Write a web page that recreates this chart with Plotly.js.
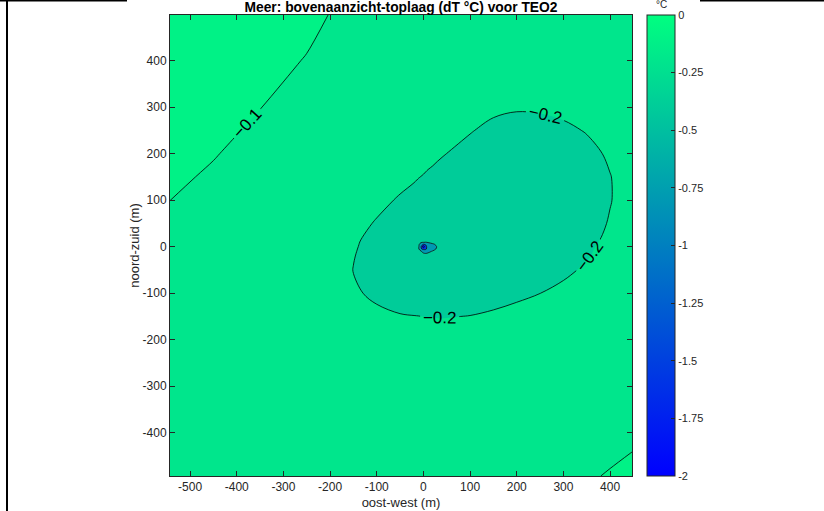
<!DOCTYPE html>
<html><head><meta charset="utf-8">
<script src="https://cdn.plot.ly/plotly-3.0.1.min.js"></script>
<style>html,body{margin:0;padding:0;background:#fff;} #chart{width:824px;height:511px;}</style>
</head><body><div id="chart"></div>
<script>
// grid coordinates (m)
const xs = [-543, -450, -350, -250, -150, -100, -50, -20, -10, -5, 0, 5, 10, 20, 30, 40, 100, 150, 200, 250, 300, 350, 400, 447];
const ys = [-493, -400, -300, -200, -150, -100, -50, -20, -10, -5, 0, 5, 10, 20, 50, 100, 150, 200, 250, 300, 400, 498];
// dT (°C), one row per ys value
const dT = [
 [-0.15,-0.15,-0.15,-0.15,-0.15,-0.15,-0.15,-0.15,-0.15,-0.15,-0.15,-0.15,-0.15,-0.15,-0.15,-0.15,-0.15,-0.15,-0.15,-0.15,-0.15,-0.119,-0.0875,-0.085],
 [-0.15,-0.15,-0.15,-0.15,-0.15,-0.15,-0.15,-0.15,-0.15,-0.15,-0.15,-0.15,-0.15,-0.15,-0.15,-0.15,-0.15,-0.15,-0.15,-0.15,-0.15,-0.15,-0.16,-0.112],
 [-0.15,-0.15,-0.15,-0.15,-0.15,-0.15,-0.15,-0.15,-0.15,-0.15,-0.15,-0.15,-0.15,-0.15,-0.15,-0.15,-0.15,-0.15,-0.15,-0.15,-0.15,-0.15,-0.15,-0.15],
 [-0.15,-0.15,-0.15,-0.15,-0.155,-0.166,-0.172,-0.174,-0.175,-0.175,-0.175,-0.1755,-0.176,-0.176,-0.177,-0.177,-0.174,-0.169,-0.163,-0.153,-0.15,-0.15,-0.15,-0.15],
 [-0.15,-0.15,-0.15,-0.15,-0.175,-0.189,-0.197,-0.199,-0.1995,-0.1999,-0.2002,-0.2006,-0.201,-0.201,-0.202,-0.202,-0.199,-0.193,-0.186,-0.177,-0.166,-0.153,-0.15,-0.15],
 [-0.14,-0.15,-0.15,-0.15,-0.193,-0.21,-0.222,-0.224,-0.224,-0.2245,-0.225,-0.225,-0.225,-0.226,-0.227,-0.227,-0.224,-0.218,-0.209,-0.2003,-0.188,-0.175,-0.155,-0.15],
 [-0.13,-0.147,-0.15,-0.15,-0.201,-0.225,-0.245,-0.249,-0.249,-0.2495,-0.25,-0.25,-0.25,-0.251,-0.251,-0.252,-0.249,-0.242,-0.233,-0.222,-0.21,-0.193,-0.174,-0.154],
 [-0.124,-0.141,-0.15,-0.15,-0.198,-0.222,-0.245,-0.29,-0.31,-0.33,-0.33,-0.34,-0.34,-0.33,-0.31,-0.29,-0.264,-0.256,-0.246,-0.235,-0.221,-0.204,-0.182,-0.161],
 [-0.122,-0.139,-0.15,-0.15,-0.1965,-0.221,-0.2415,-0.29,-0.33,-0.395,-0.44,-0.45,-0.43,-0.39,-0.34,-0.30,-0.269,-0.261,-0.251,-0.24,-0.224,-0.206,-0.184,-0.164],
 [-0.121,-0.138,-0.15,-0.15,-0.1958,-0.22,-0.24,-0.30,-0.38,-0.75,-0.92,-0.9,-0.55,-0.44,-0.38,-0.32,-0.2715,-0.2635,-0.2535,-0.242,-0.226,-0.207,-0.1855,-0.165],
 [-0.12,-0.137,-0.15,-0.15,-0.195,-0.219,-0.2385,-0.30,-0.37,-0.75,-2.2,-0.95,-0.55,-0.45,-0.39,-0.33,-0.274,-0.266,-0.256,-0.244,-0.228,-0.208,-0.187,-0.166],
 [-0.119,-0.136,-0.15,-0.15,-0.1945,-0.2175,-0.237,-0.29,-0.34,-0.6,-0.82,-0.75,-0.5,-0.42,-0.37,-0.31,-0.2765,-0.2685,-0.258,-0.246,-0.2295,-0.2095,-0.188,-0.167],
 [-0.118,-0.135,-0.15,-0.15,-0.194,-0.216,-0.2355,-0.29,-0.30,-0.33,-0.33,-0.37,-0.37,-0.35,-0.31,-0.30,-0.279,-0.271,-0.26,-0.248,-0.231,-0.211,-0.189,-0.168],
 [-0.116,-0.133,-0.15,-0.15,-0.192,-0.213,-0.233,-0.28,-0.29,-0.295,-0.30,-0.30,-0.30,-0.30,-0.29,-0.28,-0.284,-0.276,-0.265,-0.253,-0.235,-0.213,-0.192,-0.169],
 [-0.11,-0.127,-0.149,-0.15,-0.184,-0.204,-0.223,-0.233,-0.237,-0.2385,-0.24,-0.2415,-0.243,-0.247,-0.25,-0.253,-0.273,-0.278,-0.279,-0.266,-0.242,-0.22,-0.1965,-0.174],
 [-0.0998,-0.117,-0.139,-0.15,-0.169,-0.187,-0.205,-0.215,-0.218,-0.2195,-0.221,-0.2225,-0.224,-0.227,-0.231,-0.234,-0.254,-0.262,-0.295,-0.277,-0.252,-0.227,-0.202,-0.179],
 [-0.09,-0.107,-0.129,-0.15,-0.15,-0.17,-0.186,-0.195,-0.199,-0.2005,-0.202,-0.204,-0.206,-0.209,-0.212,-0.216,-0.236,-0.247,-0.27,-0.267,-0.249,-0.225,-0.2015,-0.177],
 [-0.08,-0.097,-0.119,-0.143,-0.15,-0.15,-0.167,-0.177,-0.18,-0.182,-0.184,-0.1855,-0.187,-0.19,-0.194,-0.197,-0.216,-0.232,-0.245,-0.242,-0.231,-0.214,-0.193,-0.171],
 [-0.07,-0.087,-0.109,-0.133,-0.15,-0.15,-0.15,-0.159,-0.162,-0.1635,-0.165,-0.167,-0.169,-0.172,-0.175,-0.179,-0.197,-0.212,-0.22,-0.218,-0.21,-0.197,-0.179,-0.16],
 [-0.06,-0.077,-0.099,-0.123,-0.15,-0.15,-0.15,-0.15,-0.15,-0.15,-0.15,-0.15,-0.15,-0.154,-0.157,-0.16,-0.177,-0.19,-0.195,-0.193,-0.187,-0.176,-0.15,-0.15],
 [-0.04,-0.057,-0.079,-0.103,-0.138,-0.15,-0.15,-0.15,-0.15,-0.15,-0.15,-0.15,-0.15,-0.15,-0.15,-0.15,-0.15,-0.15,-0.15,-0.15,-0.15,-0.15,-0.15,-0.15],
 [-0.02,-0.037,-0.06,-0.084,-0.119,-0.137,-0.15,-0.15,-0.15,-0.15,-0.15,-0.15,-0.15,-0.15,-0.15,-0.15,-0.15,-0.15,-0.15,-0.15,-0.15,-0.15,-0.15,-0.15]
];
// contour levels (°C); each band is coloured with the colour of its lower level
const levels = [-0.1, -0.2, -0.4, -0.8, -1.6];
const labelLevels = [-0.2, -0.1];
const xTickVals = [-500, -400, -300, -200, -100, 0, 100, 200, 300, 400];
const yTickVals = [-400, -300, -200, -100, 0, 100, 200, 300, 400];
const cbTickVals = [0, -0.25, -0.5, -0.75, -1, -1.25, -1.5, -1.75, -2];
const cbTickText = ['0', '-0.25', '-0.5', '-0.75', '-1', '-1.25', '-1.5', '-1.75', '-2'];
const cMin = -2, cMax = 0;

const FONT = 'Liberation Sans, Arial, Helvetica, sans-serif';
const INK = '#262626';
function winterColor(v) {
  const t = Math.max(0, Math.min(1, (v - cMin) / (cMax - cMin)));
  return 'rgb(0,' + Math.round(255 * t) + ',' + Math.round(255 * (1 - t / 2)) + ')';
}
const winter = [[0, winterColor(cMin)], [1, winterColor(cMax)]];
function lowerOf(i) { return i + 1 < levels.length ? levels[i + 1] : cMin; }

const traces = [];
// invisible heatmap that only provides the continuous colour bar
traces.push({
  type: 'heatmap', x: xs, y: ys, z: dT, zmin: cMin, zmax: cMax, colorscale: winter,
  opacity: 0, hoverinfo: 'skip', showscale: true,
  colorbar: {
    x: 1.0314, xanchor: 'left', y: 0.5, yanchor: 'middle', len: 1, lenmode: 'fraction',
    thickness: 28, thicknessmode: 'pixels', xpad: 0, ypad: 0,
    outlinewidth: 1, outlinecolor: INK, borderwidth: 0,
    ticks: 'inside', ticklen: 4, tickcolor: INK,
    tickmode: 'array', tickvals: cbTickVals, ticktext: cbTickText,
    tickfont: {family: FONT, size: 11, color: INK}
  }
});
// lightest band: region above the top level (touches the plot edges)
traces.push({
  type: 'contour', x: xs, y: ys, z: dT, showscale: false, hoverinfo: 'skip',
  contours: {type: 'constraint', operation: '<', value: levels[0]},
  fillcolor: winterColor(levels[0]),
  line: {color: '#000', width: 0, smoothing: 1}
});
// closed regions below each lower level
for (let i = 1; i < levels.length; i++) {
  const L = levels[i];
  traces.push({
    type: 'contour', x: xs, y: ys, z: dT, showscale: false, hoverinfo: 'skip',
    contours: {type: 'constraint', operation: '>', value: L},
    fillcolor: winterColor(lowerOf(i)),
    line: {color: '#111', width: labelLevels.indexOf(L) >= 0 ? 0 : 0.8, smoothing: 1}
  });
}
// labelled contour lines; the level list runs on past the data range (empty levels)
// only so that Plotly spaces the labels more densely along the two real contours
const labelStep = labelLevels[1] - labelLevels[0];
traces.push({
  type: 'contour', x: xs, y: ys, z: dT, showscale: false, hoverinfo: 'skip', autocontour: false,
  contours: {coloring: 'none', start: labelLevels[0], end: labelLevels[0] + 39 * labelStep, size: labelStep,
    showlabels: true, labelformat: '.1f', labelfont: {family: FONT, size: 17, color: '#000'}},
  line: {color: '#000', width: 0.8, smoothing: 1}
});

function px2x(px) { return (px - 170) / 462; }
function py2y(py) { return (476 - py) / 461; }

const axisCommon = {
  ticks: 'inside', ticklen: 5, tickwidth: 1, tickcolor: INK,
  showline: true, mirror: 'ticks', linecolor: INK, linewidth: 1,
  showgrid: false, zeroline: false, tickmode: 'array',
  tickfont: {family: FONT, size: 12, color: INK}
};

const layout = {
  width: 824, height: 511,
  margin: {l: 170, r: 192, t: 15, b: 35},
  paper_bgcolor: '#ffffff', plot_bgcolor: winterColor(levels[1]),
  font: {family: FONT, size: 12, color: INK},
  showlegend: false,
  title: {text: 'Meer: bovenaanzicht-toplaag (dT °C) voor TEO2', x: 0.5, xref: 'paper', xanchor: 'center',
    y: 1 - 7 / 511, yref: 'container', yanchor: 'middle',
    font: {family: FONT, size: 13.8, weight: 'bold', color: '#000'}},
  xaxis: Object.assign({}, axisCommon, {
    range: [-543, 447], tickvals: xTickVals, ticktext: xTickVals.map(String),
    title: {text: 'oost-west (m)', standoff: 4, font: {family: FONT, size: 13, color: INK}}
  }),
  yaxis: Object.assign({}, axisCommon, {
    range: [-493, 498], tickvals: yTickVals, ticktext: yTickVals.map(String),
    title: {text: 'noord-zuid (m)', standoff: 0, font: {family: FONT, size: 13, color: INK}}
  }),
  annotations: [{
    text: '°C', xref: 'paper', yref: 'paper', x: px2x(661), y: py2y(5),
    xanchor: 'center', yanchor: 'middle', showarrow: false,
    font: {family: FONT, size: 10, color: INK}
  }],
  shapes: [
    {type: 'line', xref: 'paper', yref: 'paper', x0: px2x(0), x1: px2x(127), y0: py2y(0.5), y1: py2y(0.5), line: {color: '#000', width: 2}},
    {type: 'line', xref: 'paper', yref: 'paper', x0: px2x(7), x1: px2x(7), y0: py2y(0), y1: py2y(511), line: {color: '#000', width: 2}},
    {type: 'line', xref: 'paper', yref: 'paper', x0: px2x(700), x1: px2x(824), y0: py2y(0.5), y1: py2y(0.5), line: {color: '#000', width: 2}}
  ]
};

Plotly.newPlot('chart', traces, layout, {displayModeBar: false, staticPlot: true});
</script>
</body></html>
